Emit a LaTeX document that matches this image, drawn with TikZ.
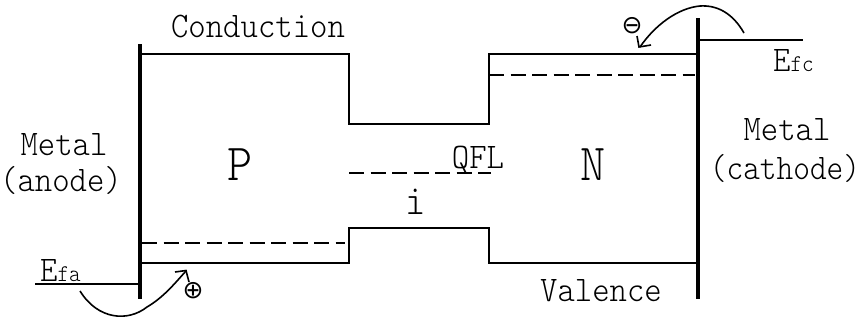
\documentclass[tikz,border=0pt]{standalone}
\usepackage{fontspec}
\newfontfamily\symf{DejaVu Sans}
\newfontfamily\monof{Latin Modern Mono Light}
\tikzset{
  lab/.style={inner sep=0pt,anchor=base,font=\monof\fontsize{36}{36}\selectfont,xscale=.92,transform shape},
  big/.style={lab,font=\monof\fontsize{52}{52}\selectfont},
  sym/.style={inner sep=0pt,font=\symf\fontsize{25}{25}\selectfont},
  metal/.style={line width=3.2pt},
  band/.style={line width=2pt},
  level/.style={line width=1.8pt,dash pattern=on 15pt off 6.5pt},
  fermi/.style={line width=1.8pt},
  hop/.style={line width=1.6pt}
}
\begin{document}
\begin{tikzpicture}[x=1pt,y=-1pt]
\useasboundingbox (0,0) rectangle (862,322);
\draw[metal] (140,44) -- (140,299);
\draw[metal] (698,18) -- (698,299);
\draw[band] (140,54) -- (349,54) -- (349,124) -- (489,124) -- (489,54) -- (698,54);
\draw[band] (140,263) -- (349,263) -- (349,228) -- (489,228) -- (489,263) -- (698,263);
\draw[level] (142,243) -- (345,243);
\draw[level] (349,173) -- (491,173);
\draw[level] (489,75) -- (695,75);
\draw[fermi] (35,284) -- (140,284);
\draw[fermi] (700,40) -- (803,40);
\draw[hop] (80,291) .. controls (98,320) and (128,322) .. (147,307) .. controls (164,297) and (175,283) .. (186,271);
\draw[hop] (175,272) -- (186,270.5) -- (189,282);
\draw[hop] (744,33) .. controls (732,12) and (716,5) .. (700,6) .. controls (678,8) and (655,25) .. (640,47);
\draw[hop] (637,36) -- (639,47) -- (651,45);
\node[sym] (plus) at (193,291) {⊕};
\node[sym] (minus) at (632,26) {⊖};
\node[lab] (cond) at (258,37) {Conduction};
\node[lab] (val) at (601,301) {Valence};
\node[lab] (m1) at (64,155) {Metal};
\node[lab] (an) at (61,191) {(anode)};
\node[lab] (m2) at (787,140) {Metal};
\node[lab,xscale=.96] (ca) at (785,179) {(cathode)};
\node[big] (p) at (240,180) {P};
\node[big] (n) at (593,180) {N};
\node[lab,font=\monof\fontsize{42}{42}\selectfont] (i) at (416,214) {i};
\node[lab] (q) at (478,168) {QFL};
\node[lab,anchor=base west] (efa) at (40,281) {E\fontsize{24}{24}\selectfont fa};
\node[lab,anchor=base west] (efc) at (773,71) {E\fontsize{24}{24}\selectfont fc};
\end{tikzpicture}
\end{document}
